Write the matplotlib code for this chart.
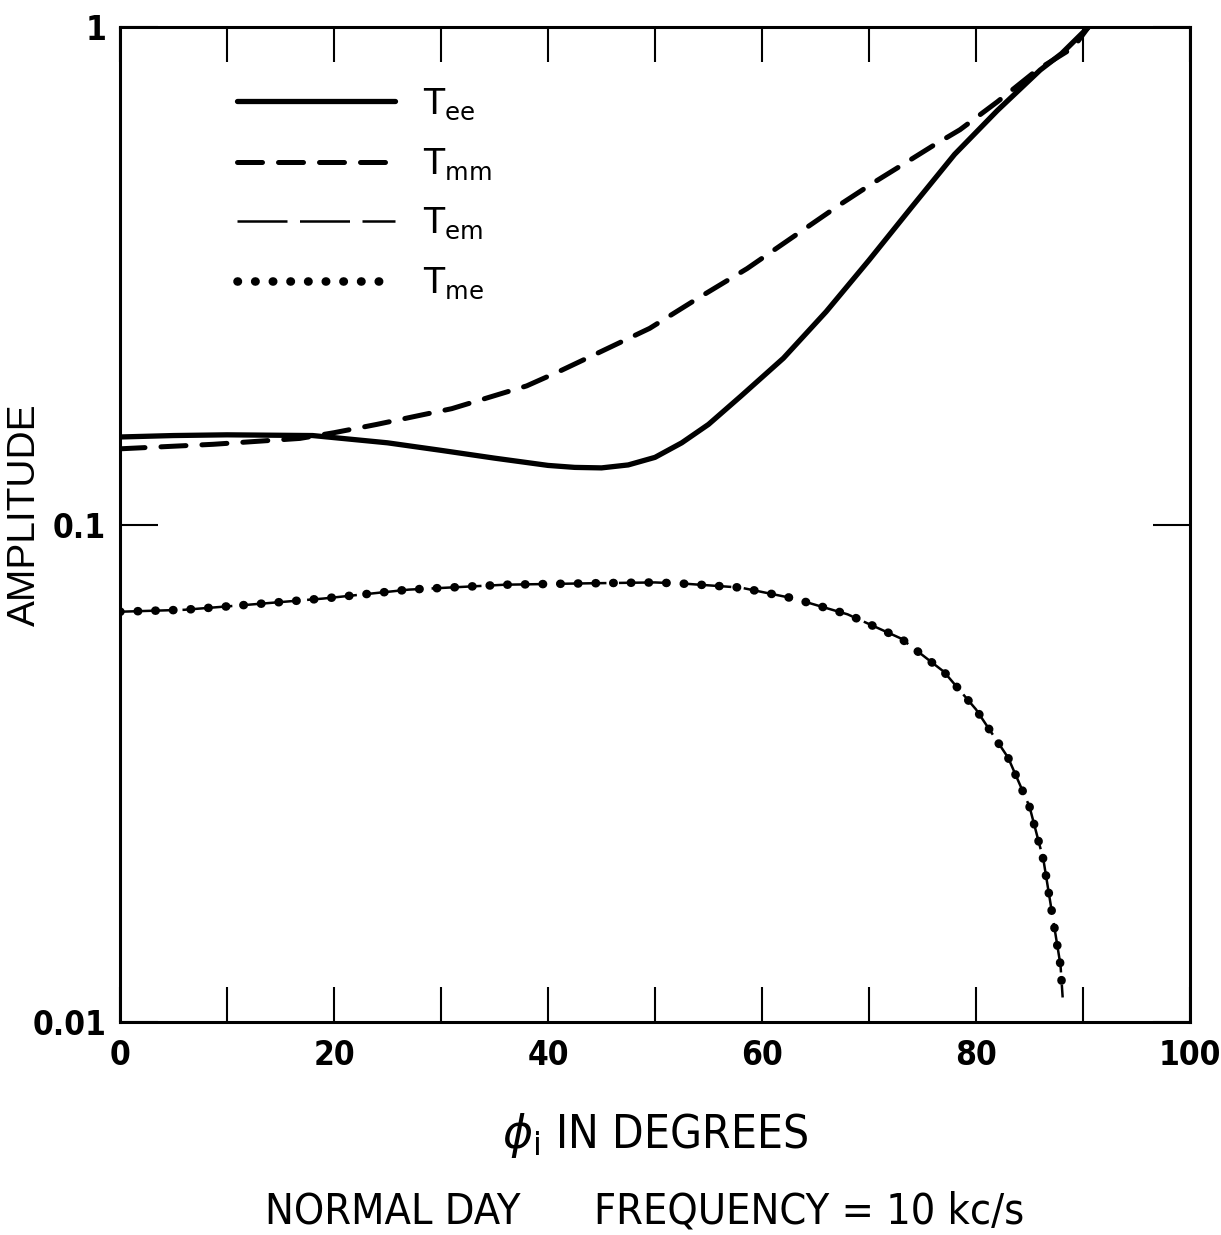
import matplotlib
matplotlib.use('Agg')
import matplotlib.pyplot as plt
from matplotlib import font_manager
from matplotlib.ticker import FixedLocator, NullLocator, FixedFormatter

# read-off values, amplitude vs angle of incidence (degrees)
phi_ee = [0, 5, 10, 18, 25, 30, 35, 40, 42.5, 45, 47.5, 50, 52.5, 55, 58, 62, 66, 70, 74,
          78, 82, 86, 88, 90.5]
t_ee = [0.150, 0.151, 0.1515, 0.151, 0.146, 0.141, 0.136, 0.1315, 0.1303, 0.130, 0.1318,
        0.1365, 0.146, 0.159, 0.181, 0.216, 0.268, 0.340, 0.435, 0.555, 0.680, 0.820, 0.885, 1.0]

phi_mm = [0, 8.7, 16.8, 20, 24, 31, 38, 41, 45, 49.5, 54, 58.6, 63, 67.3, 70.5, 73.5, 76,
          78.5, 82, 85.7, 89.1, 90.5]
t_mm = [0.142, 0.145, 0.149, 0.153, 0.159, 0.171, 0.190, 0.203, 0.223, 0.248, 0.285,
        0.327, 0.380, 0.440, 0.488, 0.535, 0.578, 0.622, 0.708, 0.820, 0.910, 1.0]

# T_em and T_me lie on the same curve
phi_me = [0, 6, 12, 19, 27, 36, 44, 50, 53, 58, 63, 68, 73, 77, 80, 83, 85, 86.3, 87.1, 87.9, 88.1]
t_me = [0.0668, 0.0674, 0.069, 0.071, 0.074, 0.0757, 0.0762, 0.0765, 0.076, 0.0747, 0.071,
        0.066, 0.059, 0.0506, 0.0425, 0.034, 0.0271, 0.0212, 0.0166, 0.013, 0.0112]
t_em = t_me

x_major = [0, 20, 40, 60, 80, 100]
x_minor = [10, 30, 50, 70, 90]
y_ticks = [0.01, 0.1, 1]
y_labels = ['0.01', '0.1', '1']

names = {f.name for f in font_manager.fontManager.ttflist}
if 'Liberation Sans Narrow' in names:
    narrow = dict(family=['Liberation Sans Narrow', 'DejaVu Sans'])
else:
    narrow = dict(family=['DejaVu Sans'], stretch='condensed')

fig = plt.figure(figsize=(12.21, 12.35), dpi=100)
ax = fig.add_axes([0.0983, 0.1725, 0.8763, 0.8055])

ax.plot(phi_ee, t_ee, color='black', lw=3.8, solid_capstyle='round', solid_joinstyle='round',
        label=r'$\mathrm{T_{ee}}$')
ax.plot(phi_mm, t_mm, color='black', lw=3.6, dashes=(5.0, 3.2), dash_capstyle='round',
        label=r'$\mathrm{T_{mm}}$')
ax.plot(phi_me, t_em, color='black', lw=1.8, dashes=(20, 5), label=r'$\mathrm{T_{em}}$')
ax.plot(phi_me, t_me, color='black', lw=6.2, dashes=(0.05, 2.0), dash_capstyle='round',
        label=r'$\mathrm{T_{me}}$')

ax.set_xlim(0, 100)
ax.set_yscale('log')
ax.set_ylim(0.01, 1)

ax.xaxis.set_major_locator(FixedLocator(x_major))
ax.xaxis.set_minor_locator(FixedLocator(x_minor))
ax.yaxis.set_major_locator(FixedLocator(y_ticks))
ax.yaxis.set_major_formatter(FixedFormatter(y_labels))
ax.yaxis.set_minor_locator(NullLocator())

ax.tick_params(axis='x', which='both', direction='in', length=25, width=1.5,
               top=True, bottom=True, pad=12)
ax.tick_params(axis='y', which='both', direction='in', length=27, width=1.5,
               left=True, right=True, pad=10)
tick_font = font_manager.FontProperties(size=24, weight='bold', **narrow)
for lab in ax.get_xticklabels() + ax.get_yticklabels():
    lab.set_fontproperties(tick_font)

for sp in ax.spines.values():
    sp.set_linewidth(2.2)

ax.set_xlabel(r'$\phi_{\mathrm{i}}$ IN DEGREES', fontsize=33, labelpad=28, **narrow)
ax.set_ylabel('AMPLITUDE', fontsize=28, family=['Liberation Sans', 'DejaVu Sans'])
ax.yaxis.set_label_coords(-0.072, 0.51)

fig.text(0.528, 0.019, 'NORMAL DAY      FREQUENCY = 10 kc/s', fontsize=31,
         ha='center', va='center', **narrow)

leg = ax.legend(loc='upper left', bbox_to_anchor=(0.08, 0.972), frameon=False,
                fontsize=25, handlelength=4.55, labelspacing=0.7, handletextpad=0.8)

fig.savefig('out.png', dpi=100, facecolor='white')
